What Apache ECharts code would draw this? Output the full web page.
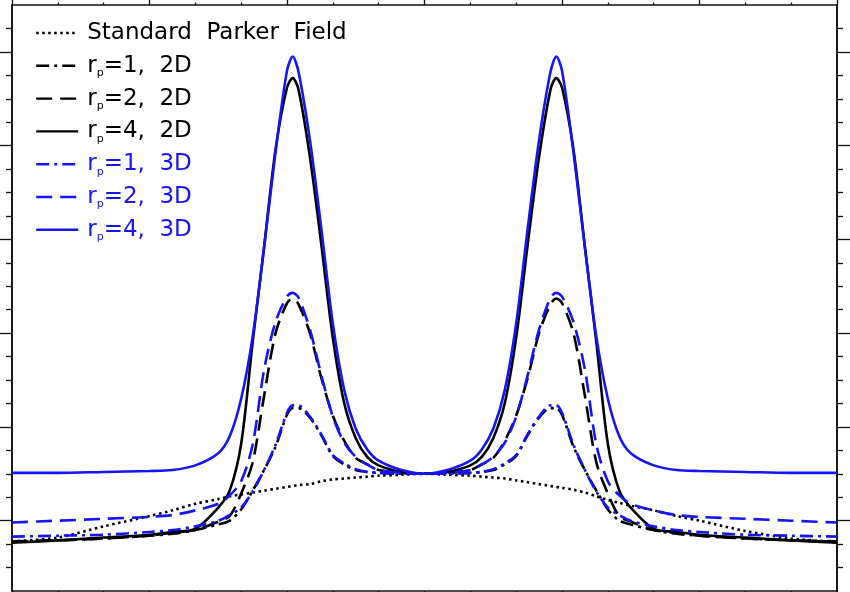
<!DOCTYPE html>
<html>
<head>
<meta charset="utf-8">
<script src="https://cdn.jsdelivr.net/npm/echarts@6/dist/echarts.min.js"></script>
<style>html,body{margin:0;padding:0;background:#fff;}#c{width:850px;height:592px;}</style>
</head>
<body>
<div id="c"></div>
<script>
var angle = [0,20,40,60,70,80,90,95,100,105,110,115,120,122.5,125,130,135,140,145,150,155,160,170,180,190,200,205,210,215,220,225,230,235,237.5,240,245,250,255,260,265,270,280,290,300,320,340,360];

var parker = [0.78,0.82,0.94,1.05,1.11,1.18,1.23,1.26,1.28,1.30,1.32,1.34,1.36,1.37,1.38,1.39,1.42,1.44,1.45,1.46,1.47,1.48,1.49,1.50,
              1.49,1.48,1.47,1.46,1.45,1.43,1.41,1.39,1.37,1.36,1.35,1.33,1.30,1.26,1.22,1.19,1.16,1.11,1.05,1.00,0.89,0.81,0.77];
var rp1_2d = [0.78,0.79,0.81,0.84,0.86,0.90,0.96,1.00,1.12,1.32,1.54,1.79,2.13,2.20,2.20,2.10,1.91,1.69,1.60,1.54,1.52,1.51,1.50,1.50,
              1.50,1.51,1.52,1.54,1.60,1.69,1.91,2.10,2.20,2.20,2.13,1.79,1.54,1.32,1.12,1.00,0.96,0.90,0.86,0.84,0.81,0.79,0.78];
var rp2_2d = [0.776,0.79,0.81,0.84,0.87,0.90,0.99,1.05,1.29,1.62,2.33,3.00,3.32,3.37,3.31,3.00,2.52,2.12,1.85,1.67,1.60,1.54,1.51,1.50,
              1.51,1.54,1.60,1.67,1.85,2.12,2.52,3.00,3.31,3.37,3.32,3.00,2.33,1.62,1.29,1.05,0.99,0.90,0.87,0.84,0.81,0.79,0.776];
var rp4_2d = [0.765,0.79,0.82,0.85,0.88,0.915,1.14,1.32,1.82,2.90,3.92,4.96,5.62,5.72,5.60,4.88,3.94,2.95,2.25,1.88,1.68,1.59,1.52,1.50,
              1.52,1.59,1.68,1.88,2.25,2.95,3.94,4.88,5.60,5.72,5.62,4.96,3.92,2.90,1.82,1.32,1.14,0.915,0.88,0.85,0.82,0.79,0.765];
var rp1_3d = [0.83,0.84,0.85,0.88,0.90,0.94,1.00,1.06,1.14,1.31,1.54,1.81,2.15,2.23,2.23,2.11,1.92,1.70,1.61,1.55,1.52,1.51,1.50,1.50,
              1.50,1.51,1.52,1.55,1.61,1.70,1.92,2.11,2.23,2.23,2.15,1.81,1.54,1.31,1.14,1.06,1.00,0.94,0.90,0.88,0.85,0.84,0.83];
var rp2_3d = [0.98,1.00,1.02,1.04,1.06,1.11,1.18,1.27,1.42,1.81,2.61,3.12,3.39,3.43,3.38,3.04,2.55,2.11,1.83,1.68,1.60,1.54,1.51,1.50,
              1.51,1.54,1.60,1.68,1.83,2.11,2.55,3.04,3.38,3.43,3.39,3.12,2.61,1.81,1.42,1.27,1.18,1.11,1.06,1.04,1.02,1.00,0.98];
var rp4_3d = [1.51,1.51,1.52,1.53,1.54,1.59,1.72,1.90,2.30,2.96,3.91,4.93,5.80,5.95,5.79,5.06,4.11,3.10,2.39,1.98,1.76,1.64,1.54,1.50,
              1.54,1.64,1.76,1.98,2.39,3.10,4.11,5.06,5.79,5.95,5.80,4.93,3.91,2.96,2.30,1.90,1.72,1.59,1.54,1.53,1.52,1.51,1.51];

var seriesNames = ['Standard Parker Field','r_p=1, 2D','r_p=2, 2D','r_p=4, 2D','r_p=1, 3D','r_p=2, 3D','r_p=4, 3D'];
var yMajorTicks = [1,2,3,4,5,6];
var yMinorTicks = [0.5,0.75,1.25,1.5,1.75,2.25,2.5,2.75,3.25,3.5,3.75,4.25,4.5,4.75,5.25,5.5,5.75,6.25];

var BLACK = '#000000';
var BLUE = '#1414f5';
var FONT = 'DejaVu Sans';

function pairs(arr){ return angle.map(function(a,i){ return [a, arr[i]]; }); }

var styles = [
  {data: parker, color: BLACK, type: [2.5,3.5]},
  {data: rp1_2d, color: BLACK, type: [13,5,3,5]},
  {data: rp2_2d, color: BLACK, type: [16,8]},
  {data: rp4_2d, color: BLACK, type: 'solid'},
  {data: rp1_3d, color: BLUE, type: [13,5,3,5]},
  {data: rp2_3d, color: BLUE, type: [16,8]},
  {data: rp4_3d, color: BLUE, type: 'solid'}
];

var series = styles.map(function(s, i){
  return {
    name: seriesNames[i], type: 'line', symbol: 'none', smooth: 0.3,
    xAxisIndex: 0, yAxisIndex: 0,
    data: pairs(s.data),
    lineStyle: {color: s.color, width: 2.6, type: s.type},
    itemStyle: {color: s.color},
    z: 3
  };
});

function richSet(color, pre){
  var o = {};
  o[pre + 'a'] = {color: color, fontSize: 23, fontFamily: FONT, lineHeight: 26, padding: [0,0,0,4]};
  o[pre + 'b'] = {color: color, fontSize: 23, fontFamily: FONT, lineHeight: 26};
  o[pre + 's'] = {color: color, fontSize: 11, fontFamily: FONT, lineHeight: 12, verticalAlign: 'bottom'};
  return o;
}
var rich = Object.assign({}, richSet(BLACK, 'k'), richSet(BLUE, 'u'));

var commonX = {
  type: 'value', min: 0, max: 360, interval: 60,
  axisLine: {show: true, onZero: false, lineStyle: {color: '#111', width: 1.6}},
  axisTick: {show: true, inside: false, length: 5, lineStyle: {color: '#111', width: 1.3}},
  minorTick: {show: true, splitNumber: 3, length: 2.5, lineStyle: {color: '#111', width: 1.3}},
  axisLabel: {show: false}, splitLine: {show: false}, minorSplitLine: {show: false}
};
function yAx(pos, vals, len){
  return {
    type: 'value', min: 0.25, max: 6.5, position: pos,
    axisLine: {show: true, onZero: false, lineStyle: {color: '#111', width: 1.6}},
    axisTick: {show: true, inside: false, length: len, customValues: vals, lineStyle: {color: '#111', width: 1.3}},
    axisLabel: {show: false}, splitLine: {show: false}
  };
}

var option = {
  animation: false,
  backgroundColor: '#ffffff',
  grid: {left: 12, right: 13, top: 5, bottom: 1, containLabel: false},
  xAxis: [
    Object.assign({}, commonX, {position: 'bottom'}),
    Object.assign({}, commonX, {position: 'top'})
  ],
  yAxis: [
    yAx('left', yMajorTicks, 12),
    yAx('left', yMinorTicks, 6),
    yAx('right', yMajorTicks, 14),
    yAx('right', yMinorTicks, 6)
  ],
  legend: {
    orient: 'vertical', left: 35, top: 20, padding: 0, itemGap: 6.8,
    itemWidth: 42, itemHeight: 14, selectedMode: false,
    itemStyle: {opacity: 0, borderWidth: 0},
    lineStyle: {width: 2.4},
    data: seriesNames.map(function(n){ return {name: n}; }),
    textStyle: {fontFamily: FONT, fontSize: 23, lineHeight: 26, rich: rich},
    formatter: function(name){
      var pre = name.indexOf('3D') >= 0 ? 'u' : 'k';
      if (name.indexOf('r_p') === 0) {
        var rest = name.slice(3).replace(', ', ',  ');
        return '{' + pre + 'a|r}{' + pre + 's|p}{' + pre + 'b|' + rest + '}';
      }
      return '{' + pre + 'a|' + name.replace(/ /g, '  ') + '}';
    }
  },
  series: series
};

var chart = echarts.init(document.getElementById('c'), null, {renderer: 'canvas'});
chart.setOption(option);
</script>
</body>
</html>
